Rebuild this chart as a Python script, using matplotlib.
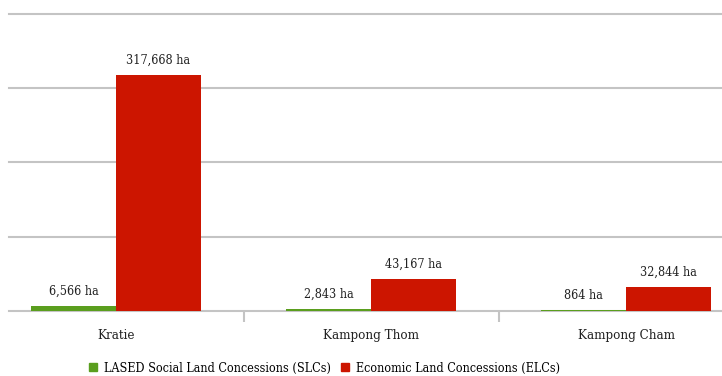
import matplotlib.pyplot as plt
import numpy as np

provinces = ['Kratie', 'Kampong Thom', 'Kampong Cham']
slc_ha = [6566, 2843, 864]
elc_ha = [317668, 43167, 32844]
series_names = ['LASED Social Land Concessions (SLCs)', 'Economic Land Concessions (ELCs)']

green = '#5a9e1e'
red = '#cc1500'
grid_col = '#c4c4c4'

plt.rcParams['font.family'] = 'DejaVu Serif'
plt.rcParams['font.stretch'] = 'condensed'

fig = plt.figure(figsize=(7.22, 3.76), dpi=100)
ax = fig.add_axes([9 / 722, 1 - 311 / 376, 713 / 722, 297 / 376])

x = np.arange(len(provinces))
w = 0.333
b1 = ax.bar(x - w / 2, slc_ha, w, color=green, zorder=3)
b2 = ax.bar(x + w / 2, elc_ha, w, color=red, zorder=3)

for bars, vals in [(b1, slc_ha), (b2, elc_ha)]:
    for r, v in zip(bars, vals):
        ax.annotate(f'{v:,} ha', (r.get_x() + r.get_width() / 2, v),
                    xytext=(0, 6), textcoords='offset points',
                    ha='center', va='bottom', fontsize=9, color='#222222')

ax.set_xlim(-0.42, 2.376)
ax.set_ylim(0, 400000)
ax.set_yticks([100000, 200000, 300000, 400000])
ax.yaxis.grid(True, color=grid_col, linewidth=1.5, zorder=0)
for gl in ax.get_ygridlines():
    gl.set_clip_on(False)
ax.tick_params(axis='y', left=False, labelleft=False)

ax.set_xticks(x)
ax.set_xticklabels(provinces, fontsize=9.5, color='#222222')
ax.tick_params(axis='x', which='major', length=0, pad=13)
ax.set_xticks([0.5, 1.5], minor=True)
ax.tick_params(axis='x', which='minor', length=8, width=1.5, color=grid_col)

for s in ['top', 'right', 'left']:
    ax.spines[s].set_visible(False)
ax.spines['bottom'].set_color(grid_col)
ax.spines['bottom'].set_linewidth(1.5)

handles = [plt.Rectangle((0, 0), 1, 1, color=green), plt.Rectangle((0, 0), 1, 1, color=red)]
fig.legend(handles, series_names, loc='center', bbox_to_anchor=(0.45, 1 - 368 / 376),
           ncol=2, frameon=False, fontsize=9, handlelength=0.6, handleheight=0.6,
           handletextpad=0.6, columnspacing=0.8)

fig.savefig('out.png', dpi=100)
